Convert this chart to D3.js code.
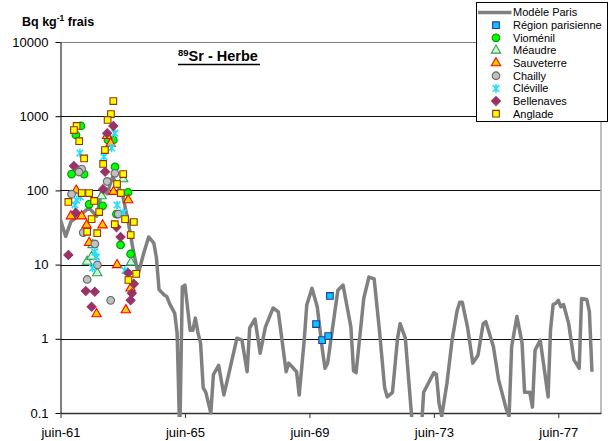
<!DOCTYPE html>
<html>
<head>
<meta charset="utf-8">
<script src="https://cdn.jsdelivr.net/npm/d3@7"></script>
<style>
    body { margin: 0; background: #fff; }
    svg { font-family: "Liberation Sans", Arial, sans-serif; }
</style>
</head>
<body>
<div id="chart"></div>
<script>
let xTickDates = ["1961-06", "1965-06", "1969-06", "1973-06", "1977-06"];
let xTickLabels = ["juin-61", "juin-65", "juin-69", "juin-73", "juin-77"];
let yTickValues = [0.1, 1, 10, 100, 1000, 10000];
let yTickLabels = ["0.1", "1", "10", "100", "1000", "10000"];

let seriesNames = ["Modèle Paris", "Région parisienne", "Vioménil", "Méaudre", "Sauveterre",
    "Chailly", "Cléville", "Bellenaves", "Anglade"];

// Modèle Paris (monthly model, only the turning points)
let modelDates = ["1961-06", "1961-08", "1961-10",
    "1962-02", "1962-05", "1962-08", "1962-10", "1962-12",
    "1963-02", "1963-04", "1963-06", "1963-08", "1963-10", "1963-12",
    "1964-02", "1964-04", "1964-06", "1964-07", "1964-08", "1964-10", "1964-11", "1964-12",
    "1965-02", "1965-03", "1965-04", "1965-05", "1965-06", "1965-08", "1965-09", "1965-10", "1965-11", "1965-12",
    "1966-01", "1966-02", "1966-04", "1966-05", "1966-07", "1966-09", "1966-11",
    "1967-02", "1967-04", "1967-06", "1967-07", "1967-09", "1967-11",
    "1968-01", "1968-04", "1968-06", "1968-09", "1968-10",
    "1969-01", "1969-02", "1969-04", "1969-05", "1969-07", "1969-09", "1969-11", "1969-12",
    "1970-01", "1970-05", "1970-07", "1970-10", "1970-11", "1970-12",
    "1971-03", "1971-05", "1971-07", "1971-09", "1971-11", "1971-12",
    "1972-02", "1972-04", "1972-05", "1972-07", "1972-10",
    "1973-01", "1973-02", "1973-06", "1973-07", "1973-08", "1973-09", "1973-11",
    "1974-01", "1974-03", "1974-04", "1974-05", "1974-07", "1974-09", "1974-11",
    "1975-01", "1975-02", "1975-05", "1975-07", "1975-09", "1975-10", "1975-11", "1975-12",
    "1976-02", "1976-04", "1976-05", "1976-07", "1976-08", "1976-09", "1976-11",
    "1977-02", "1977-03", "1977-04", "1977-05", "1977-06", "1977-07", "1977-08", "1977-10", "1977-12",
    "1978-02", "1978-03", "1978-05", "1978-06", "1978-07"];
let modelValues = [40, 24, 38,
    48, 58, 45, 105, 90,
    150, 120, 85, 40, 16, 7.5,
    14, 23.6, 19.5, 12.3, 4.6, 3.9, 3.7, 3.0,
    2.2, 1.2, 0.05, 5.0, 5.3, 1.3, 1.3, 1.9, 1.2, 0.88,
    0.22, 0.19, 0.1, 0.33, 0.44, 0.175, 0.35,
    1.02, 0.96, 0.36, 1.4, 1.85, 0.64,
    1.44, 2.6, 2.3, 0.36, 0.47,
    0.36, 0.175, 0.96, 2.86, 4.8, 2.7, 0.7, 0.4,
    0.47, 4.5, 5.3, 1.44, 0.37, 0.35,
    3.5, 6.8, 6.4, 1.3, 0.22, 0.165,
    0.19, 1.02, 1.6, 1.02, 0.05,
    0.05, 0.19, 0.35, 0.33, 0.135, 0.09, 0.25,
    0.96, 2.4, 3.1, 3.1, 1.44, 0.47, 0.6,
    1.6, 1.7, 0.78, 0.28, 0.15, 0.11, 0.09, 0.78,
    2.0, 0.88, 0.19, 0.19, 0.12, 0.7, 0.96,
    0.165, 1.3, 2.9, 3.0, 3.3, 2.7, 2.9, 1.6, 0.52,
    0.4, 3.5, 3.4, 2.3, 0.36];

let regionDates = ["1969-08-18", "1969-10-28", "1970-01-07", "1970-01-28"];
let regionValues = [1.58, 0.96, 1.09, 3.78];

let viomenilDates = ["1962-01-27", "1961-11-29", "1962-12-10", "1963-02-11", "1963-03-03", "1961-10-09",
    "1962-03-05", "1963-08-03", "1962-10-08", "1963-03-20", "1962-05-03", "1963-05-07", "1963-09-02"];
let viomenilValues = [738, 558, 478, 478, 207, 166, 166, 94, 62, 48, 65, 18.4, 13.9];

let meaudreDates = ["1963-06-07", "1962-09-27", "1962-06-12", "1962-04-10", "1962-08-06", "1963-09-06", "1962-06-01"];
let meaudreValues = [142, 84, 18.4, 11, 7.7, 10.7, 12.8];

let sauveterreDates = ["1962-11-30", "1963-01-11", "1961-12-03", "1963-02-13", "1963-08-05", "1961-10-01", "1962-02-05",
    "1962-04-03", "1962-10-08", "1962-05-03", "1963-03-27", "1963-09-02", "1963-07-08", "1962-07-29"];
let sauveterreValues = [545, 430, 100, 96, 74, 45, 45, 34, 34, 19.7, 9.9, 4.8, 2.44, 2.16];

let chaillyDates = ["1962-02-05", "1962-01-04", "1963-03-01", "1962-12-01", "1961-10-09", "1963-04-09",
    "1962-02-23", "1962-07-09", "1962-08-08", "1962-04-10", "1963-01-11"];
let chaillyValues = [194, 177, 170, 132, 89, 48, 27, 19, 9.9, 6.3, 3.3];

let clevilleDates = ["1963-03-01", "1963-01-22", "1962-01-15", "1962-10-23", "1963-03-27", "1963-06-07", "1961-12-07",
    "1962-01-19", "1962-07-09", "1962-07-29", "1962-06-12", "1963-06-26", "1961-11-17"];
let clevilleValues = [590, 373, 319, 285, 63.6, 50, 74, 82, 14.8, 12.7, 9.0, 8.3, 63.6];

let bellenavesDates = ["1963-02-11", "1962-12-01", "1961-11-06", "1962-11-07", "1962-10-14", "1963-03-20", "1963-05-07",
    "1961-09-01", "1962-03-25", "1962-07-09", "1962-06-01", "1963-08-05", "1963-10-10", "1963-09-17", "1963-09-02", "1961-11-26"];
let bellenavesValues = [738, 590, 213, 178, 104, 32, 23.5, 13.5, 4.4, 4.3, 2.7, 7.7, 5.5, 4.1, 3.3, 50];

let angladeDates = ["1963-02-11", "1963-01-14", "1962-12-06", "1961-12-07", "1961-11-06", "1962-01-07", "1962-11-05",
    "1962-03-05", "1962-10-15", "1963-06-07", "1962-02-05", "1962-05-03", "1962-07-01", "1961-09-01", "1963-03-27",
    "1963-05-10", "1962-08-29", "1963-06-29", "1962-06-01", "1963-02-28", "1963-10-10", "1962-04-10", "1962-08-06",
    "1963-09-03", "1963-11-06", "1963-08-07"];
let angladeValues = [1600, 1070, 890, 740, 650, 460, 350, 270, 227, 166, 92, 92, 72, 70, 122,
    92, 51, 41, 41, 35, 37.5, 27.7, 26.5, 25, 7.5, 6.2];

let parseMonth = d3.timeParse("%Y-%m");
let parseDay = d3.timeParse("%Y-%m-%d");
function parseDate(s) { return s.length > 7 ? parseDay(s) : parseMonth(s); }

function zipSeries(dates, values) {
    return dates.map(function (d, i) { return { date: parseDate(d), value: values[i] }; });
}

let points = [
    zipSeries(regionDates, regionValues),
    zipSeries(viomenilDates, viomenilValues),
    zipSeries(meaudreDates, meaudreValues),
    zipSeries(sauveterreDates, sauveterreValues),
    zipSeries(chaillyDates, chaillyValues),
    zipSeries(clevilleDates, clevilleValues),
    zipSeries(bellenavesDates, bellenavesValues),
    zipSeries(angladeDates, angladeValues)
];

// marker look for each point series, same order as points
let markers = [
    { shape: 'square', fill: '#00CCFF', stroke: '#333399' },
    { shape: 'circle', fill: '#00FF00', stroke: '#009900' },
    { shape: 'triangle', fill: '#CCFFCC', stroke: '#339966' },
    { shape: 'triangle', fill: '#FFCC00', stroke: '#FF0000' },
    { shape: 'circle', fill: '#C0C0C0', stroke: '#666666' },
    { shape: 'star', fill: 'none', stroke: '#22DDFF' },
    { shape: 'diamond', fill: '#993366', stroke: '#993366' },
    { shape: 'square', fill: '#FFFF00', stroke: '#993300' }
];

let shapePaths = {
    square: d3.symbol().type(d3.symbolSquare).size(44)(),
    circle: d3.symbol().type(d3.symbolCircle).size(46)(),
    triangle: d3.symbol().type(d3.symbolTriangle).size(38)(),
    diamond: 'M0,-4.5L4.5,0L0,4.5L-4.5,0Z',
    star: 'M-3.3,-3.3L3.3,3.3M-3.3,3.3L3.3,-3.3M0,-4.3L0,4.3'
};

let width = 610, height = 441;
let plot = { left: 60.5, right: 601, top: 42, bottom: 413 };

let x = d3.scaleTime()
    .domain([parseMonth("1961-06"), parseDay("1978-10-15")])
    .range([plot.left, plot.right]);

let y = d3.scaleLog()
    .domain([0.1, 10000])
    .range([plot.bottom, plot.top]);

let svg = d3.select('#chart').append('svg')
    .attr('width', width)
    .attr('height', height);

// grid
svg.append('g').selectAll('line')
    .data(yTickValues.slice(1, 5))
    .enter().append('line')
    .attr('x1', plot.left).attr('x2', plot.right)
    .attr('y1', function (d) { return Math.round(y(d)) + 0.5; })
    .attr('y2', function (d) { return Math.round(y(d)) + 0.5; })
    .attr('stroke', '#111')
    .attr('stroke-width', 1);

svg.append('line')
    .attr('x1', plot.left).attr('x2', plot.right)
    .attr('y1', plot.top + 0.5).attr('y2', plot.top + 0.5)
    .attr('stroke', '#808080');
svg.append('line')
    .attr('x1', plot.right).attr('x2', plot.right)
    .attr('y1', plot.top).attr('y2', plot.bottom)
    .attr('stroke', '#aaaaaa')
    .attr('stroke-width', 1.5);

// axes
let yAxis = d3.axisLeft(y)
    .tickValues(yTickValues)
    .tickFormat(function (d, i) { return yTickLabels[i]; })
    .tickSize(5)
    .tickSizeOuter(0)
    .tickPadding(7);

let yG = svg.append('g')
    .attr('transform', 'translate(' + plot.left + ',0)')
    .call(yAxis);
yG.selectAll('path').attr('stroke', '#000');
yG.selectAll('line').attr('stroke', '#000');
yG.selectAll('text').attr('font-size', '13px').attr('fill', '#000')
    .attr('font-family', '"Liberation Sans", Arial, sans-serif');

let xAxis = d3.axisBottom(x)
    .tickValues(xTickDates.map(parseMonth))
    .tickFormat(function (d, i) { return xTickLabels[i]; })
    .tickSize(5)
    .tickSizeOuter(0)
    .tickPadding(10);

let xG = svg.append('g')
    .attr('transform', 'translate(0,' + plot.bottom + ')')
    .call(xAxis);
xG.selectAll('path').attr('stroke', '#333').attr('stroke-width', 1.5);
xG.selectAll('line').attr('stroke', '#333');
xG.selectAll('text').attr('font-size', '13px').attr('fill', '#000')
    .attr('font-family', '"Liberation Sans", Arial, sans-serif');

// model line, clipped to the plot area
svg.append('clipPath').attr('id', 'plotClip')
    .append('rect')
    .attr('x', plot.left).attr('y', plot.top)
    .attr('width', plot.right - plot.left)
    .attr('height', plot.bottom - plot.top + 4);

let line = d3.line()
    .x(function (d) { return x(d.date); })
    .y(function (d) { return y(d.value); });

svg.append('path')
    .datum(zipSeries(modelDates, modelValues))
    .attr('clip-path', 'url(#plotClip)')
    .attr('d', line)
    .attr('fill', 'none')
    .attr('stroke', '#808080')
    .attr('stroke-width', 3.5)
    .attr('stroke-linejoin', 'round');

// measured points
points.forEach(function (data, k) {
    let m = markers[k];
    svg.append('g').selectAll('path')
        .data(data)
        .enter().append('path')
        .attr('transform', function (d) { return 'translate(' + x(d.date) + ',' + y(d.value) + ')'; })
        .attr('d', shapePaths[m.shape])
        .attr('fill', m.fill)
        .attr('stroke', m.stroke)
        .attr('stroke-width', m.shape === 'star' ? 1.6 : 1.1);
});

// titles
let title = svg.append('text')
    .attr('x', 178).attr('y', 61)
    .attr('font-weight', 'bold')
    .attr('font-size', '14.5px');
title.append('tspan').attr('font-size', '9.5px').attr('dy', '-5').text('89');
title.append('tspan').attr('dy', '5').text('Sr - Herbe');
svg.append('line')
    .attr('x1', 178).attr('x2', 260)
    .attr('y1', 64.5).attr('y2', 64.5)
    .attr('stroke', '#000').attr('stroke-width', 1.3);

let yTitle = svg.append('text')
    .attr('x', 22).attr('y', 26)
    .attr('font-weight', 'bold')
    .attr('font-size', '12.5px');
yTitle.append('tspan').text('Bq kg');
yTitle.append('tspan').attr('font-size', '8.5px').attr('dy', '-5').text('-1');
yTitle.append('tspan').attr('dy', '5').text(' frais');

// legend
let legend = svg.append('g').attr('transform', 'translate(476.5,2.5)');
legend.append('rect')
    .attr('width', 131).attr('height', 119)
    .attr('fill', '#fff').attr('stroke', '#000');

let rowY = function (i) { return 10 + i * 12.65; };

legend.append('line')
    .attr('x1', 1.5).attr('x2', 35)
    .attr('y1', rowY(0)).attr('y2', rowY(0))
    .attr('stroke', '#808080').attr('stroke-width', 3.5);

markers.forEach(function (m, k) {
    legend.append('path')
        .attr('transform', 'translate(19.5,' + rowY(k + 1) + ')')
        .attr('d', shapePaths[m.shape])
        .attr('fill', m.fill)
        .attr('stroke', m.stroke)
        .attr('stroke-width', m.shape === 'star' ? 1.6 : 1.1);
});

legend.selectAll('text')
    .data(seriesNames)
    .enter().append('text')
    .attr('x', 36.5)
    .attr('y', function (d, i) { return rowY(i); })
    .attr('dy', '0.36em')
    .attr('font-size', '11px')
    .text(function (d) { return d; });
</script>
</body>
</html>
